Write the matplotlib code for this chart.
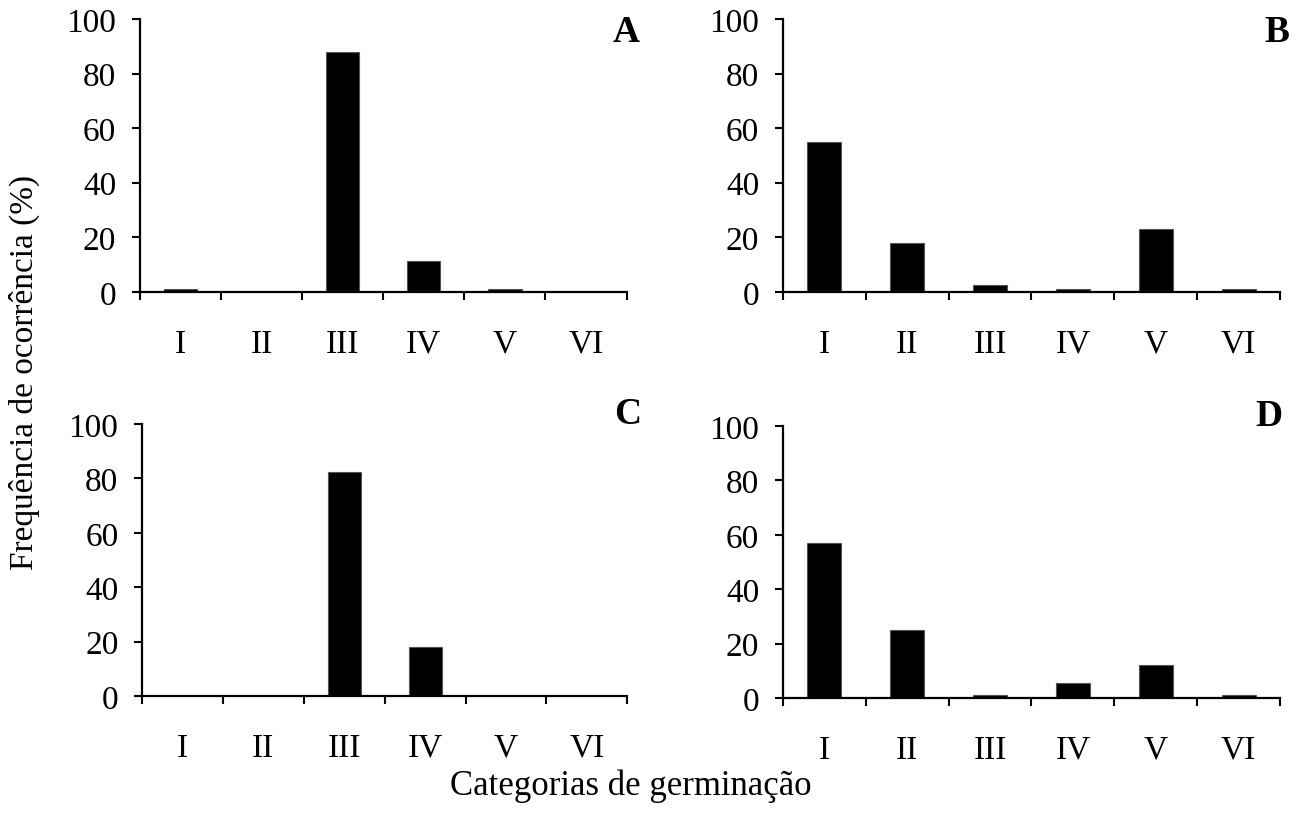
import matplotlib.pyplot as plt
import numpy as np

plt.rcParams['font.family'] = ['Liberation Serif', 'DejaVu Serif']

categories = ['I', 'II', 'III', 'IV', 'V', 'VI']
freq_a = [1, 0, 88, 11.5, 1, 0]
freq_b = [55, 18, 2.5, 1, 23, 1]
freq_c = [0, 0, 82.5, 18, 0, 0]
freq_d = [57, 25, 1, 5.5, 12, 1]

panels = [
    ('A', freq_a, [0.107, 0.6466, 0.372, 0.3294], (0.479, 0.982)),
    ('B', freq_b, [0.5986, 0.6466, 0.380, 0.3294], (0.976, 0.982)),
    ('C', freq_c, [0.1086, 0.1592, 0.371, 0.3281], (0.480, 0.521)),
    ('D', freq_d, [0.5986, 0.1568, 0.380, 0.3282], (0.970, 0.519)),
]

fig = plt.figure(figsize=(13.08, 8.29), dpi=100)

x = np.arange(1, len(categories) + 1)
for letter, vals, rect, lpos in panels:
    ax = fig.add_axes(rect)
    ax.bar(x, vals, width=0.41, color='black', edgecolor='#555555', linewidth=0.8)
    ax.set_xlim(0.5, 6.5)
    ax.set_ylim(0, 100)
    ax.set_yticks([0, 20, 40, 60, 80, 100])
    ax.set_xticks(x)
    ax.set_xticklabels(categories)
    # boundary ticks between categories
    ax.set_xticks(np.arange(0.5, 7, 1), minor=True)
    ax.tick_params(axis='x', which='major', length=0, pad=26, labelsize=24)
    ax.tick_params(axis='x', which='minor', length=6, width=1.5, direction='out')
    ax.tick_params(axis='y', length=6, width=1.5, direction='out', pad=11, labelsize=24)
    for side in ('top', 'right'):
        ax.spines[side].set_visible(False)
    for side in ('left', 'bottom'):
        ax.spines[side].set_linewidth(1.6)
    fig.text(lpos[0], lpos[1], letter, fontsize=27, fontweight='bold', ha='center', va='top')

fig.text(0.019, 0.551, 'Frequência de ocorrência (%)', rotation=90, fontsize=24,
         ha='center', va='center')
fig.text(0.482, 0.052, 'Categorias de germinação', fontsize=25, ha='center', va='center')

fig.savefig('out.png', dpi=100)
